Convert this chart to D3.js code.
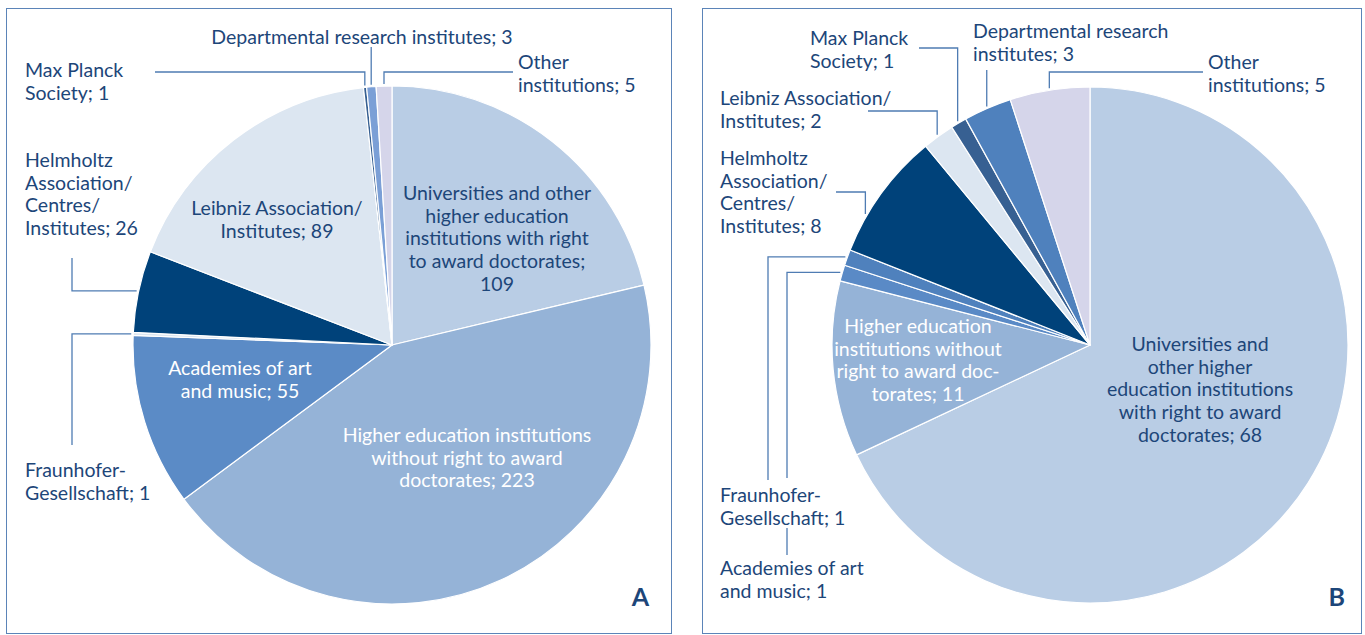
<!DOCTYPE html>
<html>
<head>
<meta charset="utf-8">
<script src="https://cdn.jsdelivr.net/npm/d3@7"></script>
<style>
  body { margin: 0; background: #fff; }
  text { font-family: Lato, "Open Sans", sans-serif; font-size: 19.5px; }
</style>
</head>
<body>
<svg width="1365" height="635"></svg>
<script>
// ---- data ----
var categories = ["Universities", "Higher education", "Academies", "Fraunhofer", "Helmholtz",
                  "Leibniz", "Max Planck", "Departmental", "Other"];

var valuesA = [109, 223, 55, 1, 26, 89, 1, 3, 5];
var valuesB = [68, 11, 1, 1, 8, 2, 1, 3, 5];

var labelsA = [
  ["Universities and other", "higher education", "institutions with right", "to award doctorates;", "109"],
  ["Higher education institutions", "without right to award", "doctorates; 223"],
  ["Academies of art", "and music; 55"],
  ["Fraunhofer-", "Gesellschaft; 1"],
  ["Helmholtz", "Association/", "Centres/", "Institutes; 26"],
  ["Leibniz Association/", "Institutes; 89"],
  ["Max Planck", "Society; 1"],
  ["Departmental research institutes; 3"],
  ["Other", "institutions; 5"]
];
var labelsB = [
  ["Universities and", "other higher", "education institutions", "with right to award", "doctorates; 68"],
  ["Higher education", "institutions without", "right to award doc-", "torates; 11"],
  ["Academies of art", "and music; 1"],
  ["Fraunhofer-", "Gesellschaft; 1"],
  ["Helmholtz", "Association/", "Centres/", "Institutes; 8"],
  ["Leibniz Association/", "Institutes; 2"],
  ["Max Planck", "Society; 1"],
  ["Departmental research", "institutes; 3"],
  ["Other", "institutions; 5"]
];

var colorsA = ["#b9cde5", "#95b3d7", "#5b8bc6", "#dce6f1", "#00427a", "#dce6f1", "#376092", "#7b9fd6", "#d5d5ea"];
var colorsB = ["#b9cde5", "#95b3d7", "#5a8ac6", "#4f81bd", "#00427a", "#dce6f1", "#376092", "#4f81bd", "#d5d5ea"];

// ---- layout (label placement per slice) ----
var navy = "#1d4679";
var lineColor = "#4f7cb3";

var layoutA = [
  {x: 497, y: 193, anchor: "middle", fill: navy},
  {x: 467, y: 435, anchor: "middle", fill: "#fff"},
  {x: 240, y: 368, anchor: "middle", fill: "#fff"},
  {x: 25, y: 470, anchor: "start", fill: navy, leader: {type: "vh", sx: 72, sy: 445}},
  {x: 25, y: 160, anchor: "start", fill: navy, leader: {type: "vh", sx: 72, sy: 258}},
  {x: 277, y: 208, anchor: "middle", fill: navy},
  {x: 25, y: 70, anchor: "start", fill: navy, leader: {type: "hv", sx: 155, sy: 72}},
  {x: 362, y: 37, anchor: "middle", fill: navy, leader: {type: "v", sy: 47}},
  {x: 518, y: 62, anchor: "start", fill: navy, leader: {type: "hv", sx: 513, sy: 72}}
];
var layoutB = [
  {x: 1200, y: 344, anchor: "middle", fill: navy},
  {x: 918, y: 326, anchor: "middle", fill: "#fff"},
  {x: 720, y: 568, anchor: "start", fill: navy, leader: {type: "vh", sx: 787, sy: 555, gap: [478, 528]}},
  {x: 720, y: 495, anchor: "start", fill: navy, leader: {type: "vh", sx: 768, sy: 480}},
  {x: 720, y: 158, anchor: "start", fill: navy, leader: {type: "hv", sx: 836, sy: 192, frac: 0.3}},
  {x: 720, y: 98, anchor: "start", fill: navy, leader: {type: "hv", sx: 868, sy: 111}},
  {x: 810, y: 38, anchor: "start", fill: navy, leader: {type: "hv", sx: 919, sy: 48}},
  {x: 973, y: 31, anchor: "start", fill: navy, leader: {type: "v", sy: 70}},
  {x: 1208, y: 62, anchor: "start", fill: navy, leader: {type: "hv", sx: 1203, sy: 72}}
];

var svg = d3.select("svg");

function drawPanel(box, cx, cy, r, values, colors, labels, layout, letter) {
  var g = svg.append("g");

  g.append("rect")
    .attr("x", box[0] + 0.5).attr("y", box[1] + 0.5)
    .attr("width", box[2]).attr("height", box[3])
    .attr("fill", "none")
    .attr("stroke", "#5b84b8")
    .attr("stroke-width", 1);

  var pie = d3.pie().sort(null).value(function(d) { return d; });
  var arcs = pie(values);
  var arc = d3.arc().innerRadius(0).outerRadius(r);

  g.append("g")
    .attr("transform", "translate(" + cx + "," + cy + ")")
    .selectAll("path")
    .data(arcs)
    .enter()
    .append("path")
      .attr("d", arc)
      .attr("fill", function(d, i) { return colors[i]; })
      .attr("stroke", "#fff")
      .attr("stroke-width", 1.2)
      .attr("stroke-linejoin", "round");

  // leader lines
  arcs.forEach(function(a, i) {
    var L = layout[i].leader;
    if (!L) return;
    var f = L.frac == null ? 0.5 : L.frac;
    var ang = a.startAngle + (a.endAngle - a.startAngle) * f;
    var tx = cx + (r + 2) * Math.sin(ang);
    var ty = cy - (r + 2) * Math.cos(ang);
    var p = d3.path();
    if (L.type === "v") {
      p.moveTo(tx, L.sy);
      p.lineTo(tx, ty);
    } else if (L.type === "hv") {
      p.moveTo(L.sx, L.sy);
      p.lineTo(tx, L.sy);
      p.lineTo(tx, ty);
    } else {
      p.moveTo(L.sx, L.sy);
      if (L.gap) {
        p.lineTo(L.sx, L.gap[1]);
        p.moveTo(L.sx, L.gap[0]);
      }
      p.lineTo(L.sx, ty);
      p.lineTo(tx, ty);
    }
    g.append("path")
      .attr("d", p.toString())
      .attr("fill", "none")
      .attr("stroke", lineColor)
      .attr("stroke-width", 1.3);
  });

  // labels
  labels.forEach(function(lines, i) {
    var lay = layout[i];
    var t = g.append("text")
      .attr("text-anchor", lay.anchor)
      .attr("fill", lay.fill);
    lines.forEach(function(s, k) {
      t.append("tspan")
        .attr("x", lay.x)
        .attr("y", lay.y + k * 22.7)
        .attr("dy", "0.35em")
        .text(s);
    });
  });

  g.append("text")
    .attr("x", letter[1])
    .attr("y", letter[2])
    .attr("text-anchor", "end")
    .attr("fill", navy)
    .style("font-size", "25px")
    .style("font-weight", "bold")
    .text(letter[0]);
}

drawPanel([6, 8, 665, 625], 392, 345, 259, valuesA, colorsA, labelsA, layoutA, ["A", 649, 606]);
drawPanel([702, 8, 659, 625], 1090, 345, 258, valuesB, colorsB, labelsB, layoutB, ["B", 1345, 606]);
</script>
</body>
</html>
